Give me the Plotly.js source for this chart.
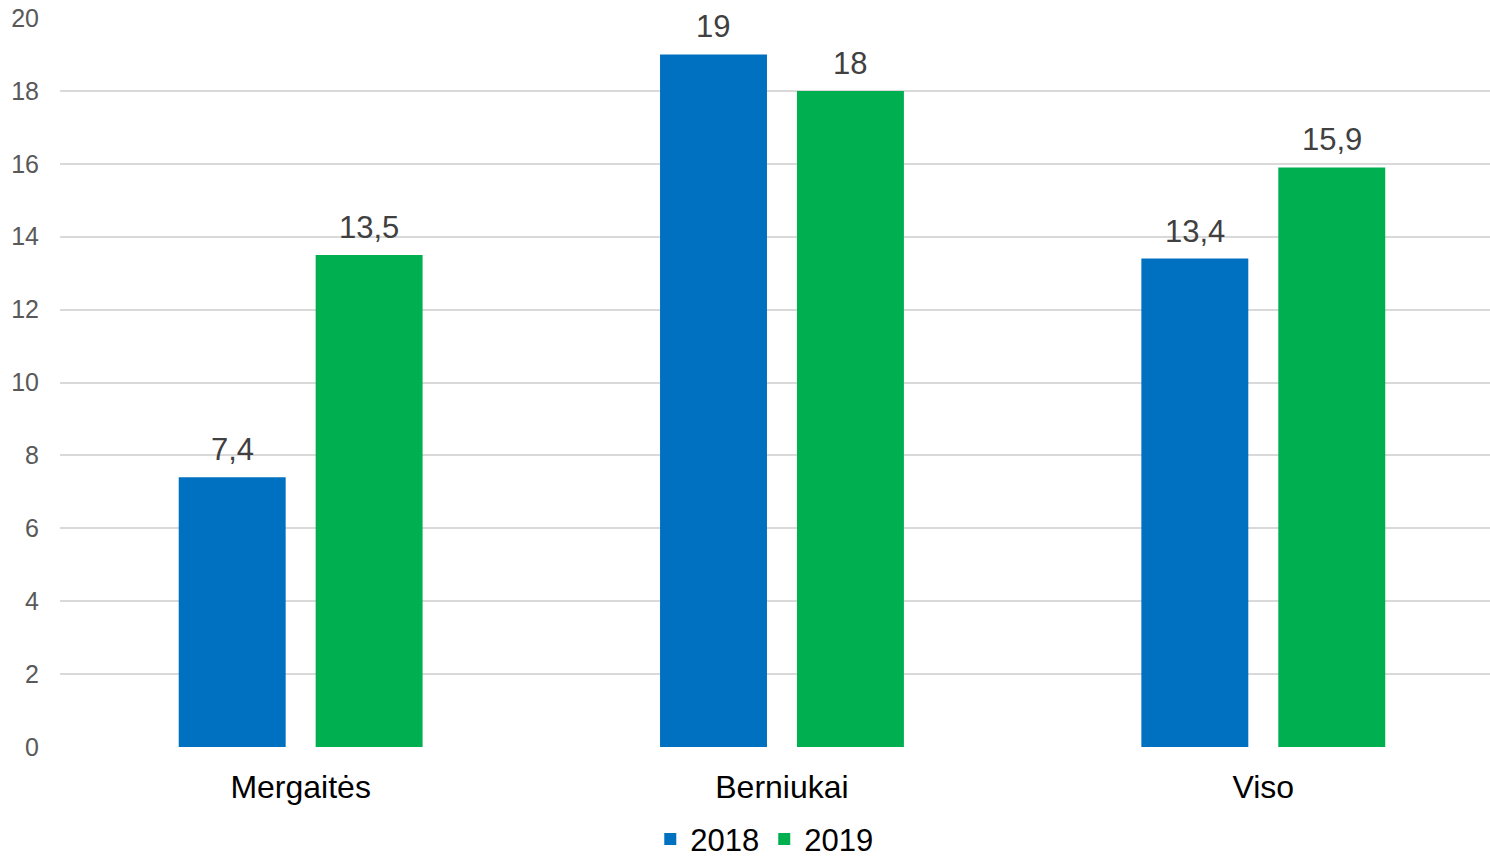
<!DOCTYPE html>
<html>
<head>
<meta charset="utf-8">
<script src="https://cdn.plot.ly/plotly-3.0.1.min.js"></script>
<style>html,body{margin:0;padding:0;background:#fff;}#chart{width:1490px;height:859px;}</style>
</head>
<body>
<div id="chart"></div>
<script>
const categories = ["Mergaitės", "Berniukai", "Viso"];
const series2018 = [7.4, 19, 13.4];
const series2019 = [13.5, 18, 15.9];
const seriesNames = ["2018", "2019"];
const yTicks = [0, 2, 4, 6, 8, 10, 12, 14, 16, 18, 20];

const fmt = v => String(v).replace('.', ',');
const FONT = 'Liberation Sans, Arial, sans-serif';
const labelFont = {family: FONT, size: 31, color: '#404040'};

const traces = [
  {type: 'bar', name: seriesNames[0], x: categories, y: series2018,
   marker: {color: '#0070C0'}, hoverinfo: 'x+y'},
  {type: 'bar', name: seriesNames[1], x: categories, y: series2019,
   marker: {color: '#00B050'}, hoverinfo: 'x+y'}
];

// data labels placed at each bar's value, offset to its slot within the group
const annotations = [];
[series2018, series2019].forEach((vals, si) => {
  vals.forEach((v, i) => {
    annotations.push({x: categories[i], y: v, xref: 'x', yref: 'y', text: fmt(v),
      showarrow: false, xanchor: 'center', yanchor: 'bottom',
      xshift: si === 0 ? -68.5 : 68.5, yshift: 8, font: labelFont});
  });
});

const layout = {
  width: 1490, height: 859,
  margin: {l: 60, r: 0, t: 18, b: 112, autoexpand: false},
  paper_bgcolor: '#ffffff', plot_bgcolor: '#ffffff',
  font: {family: FONT},
  barmode: 'group', bargap: 0.431, bargroupgap: 0.219,
  showlegend: true,
  legend: {orientation: 'h', x: 0.4925, xanchor: 'center', yref: 'container', y: 0.023, yanchor: 'middle',
           font: {size: 31, color: '#000000'}, traceorder: 'normal'},
  annotations: annotations,
  xaxis: {type: 'category', range: [-0.5, 2.471], showgrid: false, zeroline: false, showline: false,
          ticks: '', tickfont: {size: 32, color: '#000000'}, ticklabelstandoff: 18},
  yaxis: {range: [0, 20], tickvals: yTicks, ticktext: yTicks.map(String), showgrid: true,
          gridcolor: '#d9d9d9', gridwidth: 2, zeroline: false, showline: false, ticks: '',
          tickfont: {size: 25, color: '#595959'}, ticklabelstandoff: 20}
};

Plotly.newPlot('chart', traces, layout, {displayModeBar: false, staticPlot: true});
</script>
</body>
</html>
